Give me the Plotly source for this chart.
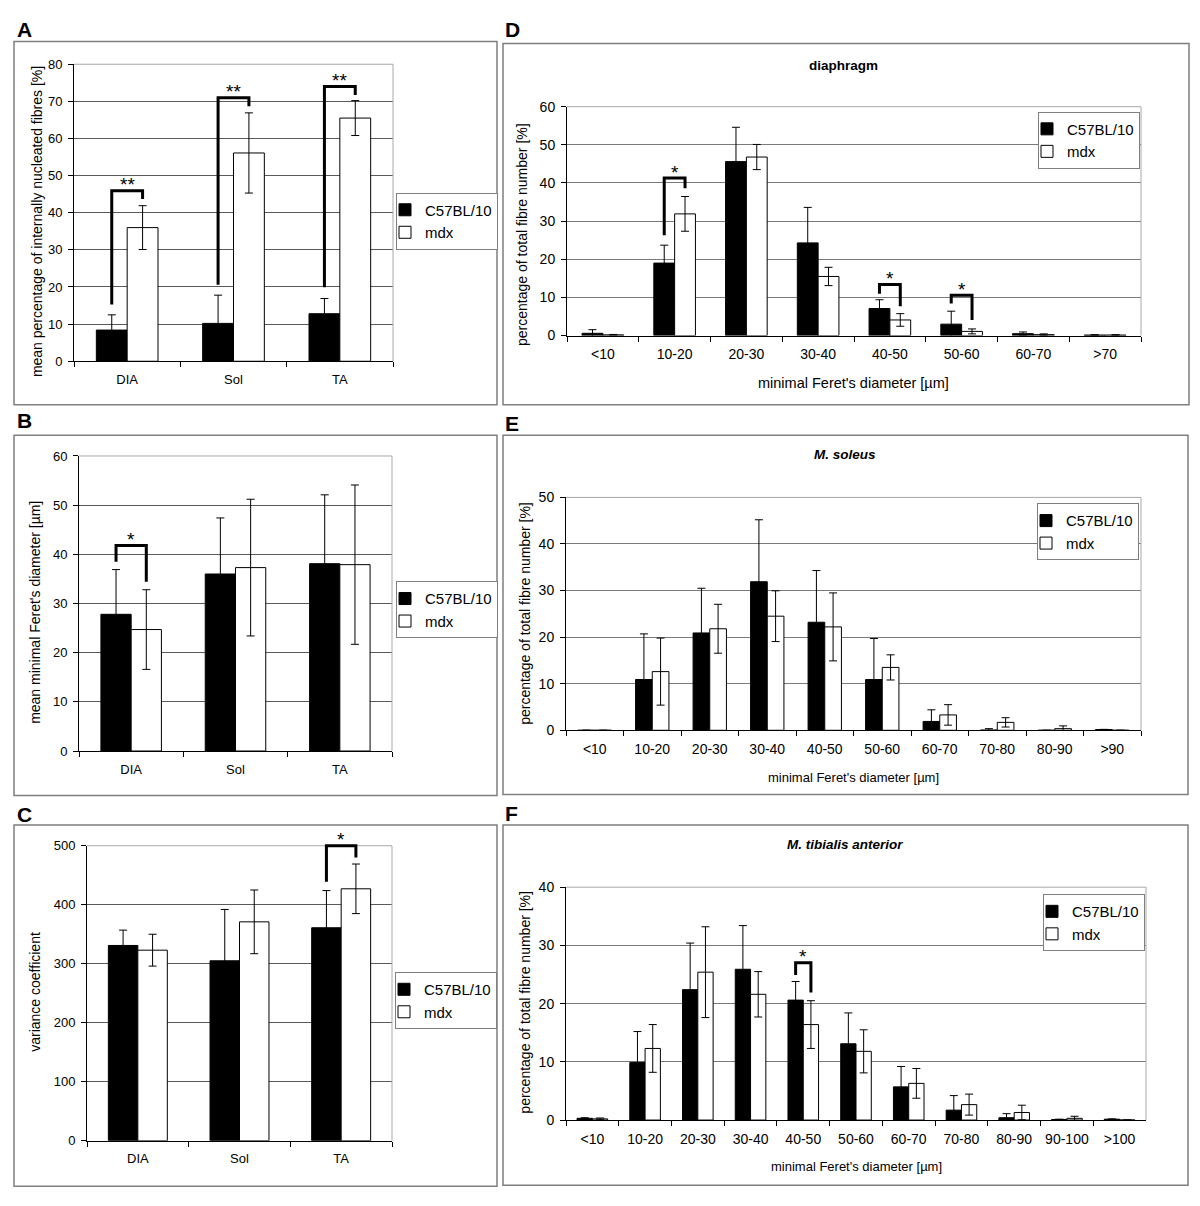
import plotly.graph_objects as go

W, H = 1200, 1206
FONT = "Liberation Sans, Arial, sans-serif"

# ---------------- data ----------------
groups = ["DIA", "Sol", "TA"]
series_names = ["C57BL/10", "mdx"]

A_c57 = [8.4, 10.2, 12.8]
A_c57_err = [4.1, 7.6, 4.1]
A_mdx = [36.0, 56.1, 65.5]
A_mdx_err = [5.9, 10.8, 4.7]

B_c57 = [27.8, 36.0, 38.1]
B_c57_err = [9.1, 11.4, 14.0]
B_mdx = [24.7, 37.3, 37.9]
B_mdx_err = [8.1, 13.9, 16.2]

C_c57 = [331, 305, 361]
C_c57_err = [26, 87, 63]
C_mdx = [323, 371, 427]
C_mdx_err = [27, 54, 42]

D_bins = ["<10", "10-20", "20-30", "30-40", "40-50", "50-60", "60-70", ">70"]
D_c57 = [0.6, 19.0, 45.6, 24.3, 7.1, 3.0, 0.5, 0.15]
D_c57_err = [0.95, 4.7, 9.0, 9.3, 2.3, 3.4, 0.45, 0.1]
D_mdx = [0.2, 31.9, 46.8, 15.5, 4.1, 1.1, 0.25, 0.15]
D_mdx_err = [0.1, 4.55, 3.3, 2.4, 1.65, 0.65, 0.2, 0.1]

E_bins = ["<10", "10-20", "20-30", "30-40", "40-50", "50-60", "60-70", "70-80", "80-90", ">90"]
E_c57 = [0, 10.9, 20.9, 31.9, 23.2, 10.9, 1.9, 0.05, 0, 0.15]
E_c57_err = [0, 9.8, 9.6, 13.3, 11.1, 8.8, 2.5, 0.3, 0, 0.05]
E_mdx = [0, 12.6, 21.8, 24.5, 22.2, 13.5, 3.3, 1.7, 0.35, 0]
E_mdx_err = [0, 7.2, 5.25, 5.45, 7.3, 2.7, 2.2, 1.0, 0.6, 0]

F_bins = ["<10", "10-20", "20-30", "30-40", "40-50", "50-60", "60-70", "70-80", "80-90", "90-100", ">100"]
F_c57 = [0.3, 9.9, 22.4, 25.9, 20.6, 13.1, 5.7, 1.7, 0.4, 0.1, 0.15]
F_c57_err = [0.1, 5.3, 8.0, 7.5, 3.2, 5.3, 3.5, 2.5, 0.7, 0.05, 0.05]
F_mdx = [0.2, 12.3, 25.4, 21.6, 16.4, 11.8, 6.3, 2.65, 1.3, 0.3, 0]
F_mdx_err = [0.15, 4.1, 7.8, 3.9, 4.1, 3.7, 2.55, 1.8, 1.25, 0.35, 0]

# significance brackets: category index, top, left-leg bottom, right-leg bottom, label
A_sig_idx = [0, 1, 2]
A_sig_top = [45.9, 71.0, 74.0]
A_sig_left = [15.3, 20.6, 19.9]
A_sig_right = [43.7, 68.7, 71.7]
A_sig_lab = ["**", "**", "**"]

B_sig_idx = [0]
B_sig_top = [41.8]
B_sig_left = [38.5]
B_sig_right = [34.4]
B_sig_lab = ["*"]

C_sig_idx = [2]
C_sig_top = [500]
C_sig_left = [439]
C_sig_right = [480]
C_sig_lab = ["*"]

D_sig_idx = [1, 4, 5]
D_sig_top = [41.3, 13.4, 10.6]
D_sig_left = [26.3, 11.0, 8.4]
D_sig_right = [38.6, 7.7, 4.1]
D_sig_lab = ["*", "*", "*"]

E_sig_idx, E_sig_top, E_sig_left, E_sig_right, E_sig_lab = [], [], [], [], []

F_sig_idx = [4]
F_sig_top = [27.0]
F_sig_left = [24.9]
F_sig_right = [21.9]
F_sig_lab = ["*"]

# ---------------- layout spec ----------------
panels = [
    dict(letter="A", cats=groups, c57=A_c57, c57e=A_c57_err, mdx=A_mdx, mdxe=A_mdx_err,
         sig=(A_sig_idx, A_sig_top, A_sig_left, A_sig_right, A_sig_lab),
         plot=(74, 393, 57, 358), ymax=80, dtick=10, frame=(14, 497, 34, 402),
         legend=(396, 187), ytitle="mean percentage of internally nucleated fibres [%]",
         ytitle_pos=(37, 217), title=None, xtitle=None, tickfont=13, grid="#5a5a5a",
         letter_pos=(15, 22)),
    dict(letter="B", cats=groups, c57=B_c57, c57e=B_c57_err, mdx=B_mdx, mdxe=B_mdx_err,
         sig=(B_sig_idx, B_sig_top, B_sig_left, B_sig_right, B_sig_lab),
         plot=(79, 392, 454, 753), ymax=60, dtick=10, frame=(14, 497, 433, 798),
         legend=(396, 581), ytitle="mean minimal Feret's diameter [µm]",
         ytitle_pos=(35, 613), title=None, xtitle=None, tickfont=13, grid="#5a5a5a",
         letter_pos=(15, 418)),
    dict(letter="C", cats=groups, c57=C_c57, c57e=C_c57_err, mdx=C_mdx, mdxe=C_mdx_err,
         sig=(C_sig_idx, C_sig_top, C_sig_left, C_sig_right, C_sig_lab),
         plot=(87, 392, 849, 1148), ymax=500, dtick=100, frame=(14, 497, 828, 1194),
         legend=(395, 977), ytitle="variance coefficient",
         ytitle_pos=(35, 997), title=None, xtitle=None, tickfont=13, grid="#5a5a5a",
         letter_pos=(15, 817)),
    dict(letter="D", cats=D_bins, c57=D_c57, c57e=D_c57_err, mdx=D_mdx, mdxe=D_mdx_err,
         sig=(D_sig_idx, D_sig_top, D_sig_left, D_sig_right, D_sig_lab),
         plot=(567, 1141, 100, 332), ymax=60, dtick=10, frame=(503, 1189, 36, 402),
         legend=(1038, 105), ytitle="percentage of total fibre number [%]",
         ytitle_pos=(522, 230), title="<b>diaphragm</b>", title_pos=(843, 58),
         xtitle="minimal Feret's diameter [µm]", xtitle_pos=(853, 380), xtitle_size=14.5,
         tickfont=14, grid="#7a7a7a", letter_pos=(503, 22)),
    dict(letter="E", cats=E_bins, c57=E_c57, c57e=E_c57_err, mdx=E_mdx, mdxe=E_mdx_err,
         sig=(E_sig_idx, E_sig_top, E_sig_left, E_sig_right, E_sig_lab),
         plot=(566, 1141, 496, 732), ymax=50, dtick=10, frame=(503, 1188, 433, 797),
         legend=(1037, 502), ytitle="percentage of total fibre number [%]",
         ytitle_pos=(525, 614), title="<b><i>M. soleus</i></b>", title_pos=(845, 452),
         xtitle="minimal Feret's diameter [µm]", xtitle_pos=(853, 780), xtitle_size=13,
         tickfont=14, grid="#7a7a7a", letter_pos=(503, 421)),
    dict(letter="F", cats=F_bins, c57=F_c57, c57e=F_c57_err, mdx=F_mdx, mdxe=F_mdx_err,
         sig=(F_sig_idx, F_sig_top, F_sig_left, F_sig_right, F_sig_lab),
         plot=(566, 1146, 891, 1127), ymax=40, dtick=10, frame=(503, 1188, 828, 1193),
         legend=(1043, 898), ytitle="percentage of total fibre number [%]",
         ytitle_pos=(525, 1008), title="<b><i>M. tibialis anterior</i></b>", title_pos=(845, 848),
         xtitle="minimal Feret's diameter [µm]", xtitle_pos=(856, 1174), xtitle_size=13,
         tickfont=14, grid="#7a7a7a", letter_pos=(503, 816)),
]

BARGAP = 0.42
HALF = (1 - BARGAP) / 4.0  # offset of each bar centre from category centre


def px(xp):
    return xp / W


def py(yp):
    return 1 - yp / H


fig = go.Figure()
shapes = []
annotations = []
layout = dict(
    width=W, height=H, margin=dict(l=0, r=0, t=0, b=0),
    paper_bgcolor="white", plot_bgcolor="white",
    barmode="group", bargap=BARGAP, bargroupgap=0,
    font=dict(family=FONT, color="black", size=13),
)

for k, p in enumerate(panels, start=1):
    sfx = "" if k == 1 else str(k)
    xa, ya = "x" + sfx, "y" + sfx
    lg = "legend" + sfx
    x0, x1, y0, y1 = p["plot"]
    n = len(p["cats"])

    for name, vals, errs, fill in [(series_names[0], p["c57"], p["c57e"], "black"),
                                   (series_names[1], p["mdx"], p["mdxe"], "white")]:
        fig.add_trace(go.Bar(
            x=p["cats"], y=vals, name=name, xaxis=xa, yaxis=ya, legend=lg,
            marker=dict(color=fill, line=dict(color="black", width=1)),
            error_y=dict(type="data", array=errs, visible=True, color="black",
                         thickness=1, width=4),
            hoverinfo="x+y",
        ))

    layout["xaxis" + sfx] = dict(
        domain=[px(x0), px(x1)], anchor=ya, type="category",
        range=[-0.5, n - 0.5], tickson="boundaries", ticks="outside", ticklen=5,
        tickcolor="black", showline=True, linecolor="black", linewidth=1,
        showgrid=False, zeroline=False, tickangle=0,
        tickfont=dict(size=p["tickfont"], color="black"),
        ticklabelstandoff=6, fixedrange=True,
    )
    layout["yaxis" + sfx] = dict(
        domain=[py(y1), py(y0)], anchor=xa, range=[0, p["ymax"]], dtick=p["dtick"],
        tick0=0, ticks="outside", ticklen=5, tickcolor="black", showline=True,
        linecolor="black", linewidth=1, showgrid=True, gridcolor=p["grid"], gridwidth=1,
        zeroline=False, tickfont=dict(size=p["tickfont"], color="black"),
        ticklabelstandoff=3, fixedrange=True,
    )
    lx, ly = p["legend"]
    layout[lg] = dict(
        x=px(lx), y=py(ly), xanchor="left", yanchor="top", xref="paper", yref="paper",
        bgcolor="white", bordercolor="#808080", borderwidth=1,
        font=dict(size=15, color="black", family=FONT), indentation=-12, itemwidth=30,
        tracegroupgap=0, itemclick=False, itemdoubleclick=False,
    )

    # panel frame
    fx0, fx1, fy0, fy1 = p["frame"]
    shapes.append(dict(type="rect", xref="paper", yref="paper", x0=px(fx0), x1=px(fx1),
                       y0=py(fy1), y1=py(fy0), line=dict(color="#7f7f7f", width=1.5),
                       layer="below"))
    # plot area top/right border
    shapes.append(dict(type="line", xref="paper", yref="paper", x0=px(x0), x1=px(x1),
                       y0=py(y0), y1=py(y0), line=dict(color="#a8a8a8", width=1)))
    shapes.append(dict(type="line", xref="paper", yref="paper", x0=px(x1), x1=px(x1),
                       y0=py(y0), y1=py(y1), line=dict(color="#a8a8a8", width=1)))

    def mapx(v, x0=x0, x1=x1, n=n):
        return px(x0 + (v + 0.5) / n * (x1 - x0))

    def mapy(v, y0=y0, y1=y1, ymax=p["ymax"]):
        return py(y1 - v / ymax * (y1 - y0))

    idxs, tops, lefts, rights, labs = p["sig"]
    for i, t, l, r, lab in zip(idxs, tops, lefts, rights, labs):
        xl, xr = mapx(i - HALF), mapx(i + HALF)
        shapes.append(dict(
            type="path", xref="paper", yref="paper",
            path=f"M {xl},{mapy(l)} L {xl},{mapy(t)} L {xr},{mapy(t)} L {xr},{mapy(r)}",
            line=dict(color="black", width=3), layer="above"))
        annotations.append(dict(
            x=mapx(i), y=mapy(t), xref="paper", yref="paper", text=lab, showarrow=False,
            xanchor="center", yanchor="middle", yshift=6,
            font=dict(size=19, color="black", family=FONT)))

    lpx, lpy = p["letter_pos"]
    annotations.append(dict(x=px(lpx), y=py(lpy), xref="paper", yref="paper",
                            text="<b>" + p["letter"] + "</b>", showarrow=False,
                            xanchor="left", yanchor="middle",
                            font=dict(size=21, color="black", family=FONT)))
    tx, ty = p["ytitle_pos"]
    annotations.append(dict(x=px(tx), y=py(ty), xref="paper", yref="paper",
                            text=p["ytitle"], showarrow=False, textangle=-90,
                            xanchor="center", yanchor="middle",
                            font=dict(size=14, color="black", family=FONT)))
    if p["title"]:
        tx, ty = p["title_pos"]
        annotations.append(dict(x=px(tx), y=py(ty), xref="paper", yref="paper",
                                text=p["title"], showarrow=False,
                                xanchor="center", yanchor="middle",
                                font=dict(size=13.5, color="black", family=FONT)))
    if p["xtitle"]:
        tx, ty = p["xtitle_pos"]
        annotations.append(dict(x=px(tx), y=py(ty), xref="paper", yref="paper",
                                text=p["xtitle"], showarrow=False,
                                xanchor="center", yanchor="middle",
                                font=dict(size=p["xtitle_size"], color="black", family=FONT)))

layout["shapes"] = shapes
layout["annotations"] = annotations
fig.update_layout(**layout)
fig.write_html(
    "out.html",
    config={"displayModeBar": False},
    post_script="document.body.style.margin='0';document.body.style.padding='0';"
                "document.body.style.overflow='hidden';",
)
